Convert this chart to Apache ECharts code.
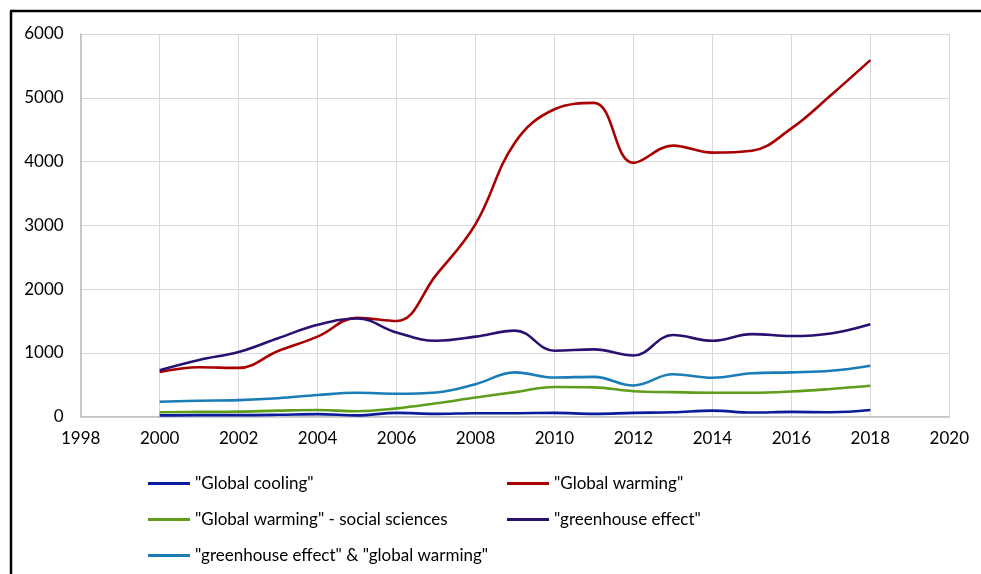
<!DOCTYPE html>
<html>
<head>
<meta charset="utf-8">
<script src="https://cdn.jsdelivr.net/npm/echarts@6/dist/echarts.min.js"></script>
<style>
html,body{margin:0;padding:0;background:#fff;}
#c{width:981px;height:574px;}
</style>
</head>
<body>
<div id="c"></div>
<script>
const years = [2000,2001,2002,2003,2004,2005,2006,2007,2008,2009,2010,2011,2012,2013,2014,2015,2016,2017,2018];
const globalCooling = [20,25,25,30,40,20,60,45,55,55,60,45,60,70,95,65,75,70,105];
const globalWarming = [700,775,765,1030,1255,1550,1500,2220,3020,4300,4820,4920,3980,4250,4140,4170,4520,5040,5590];
const gwSocial = [70,75,80,95,105,85,130,210,300,385,465,460,400,385,375,375,395,435,485];
const greenhouse = [730,890,1015,1230,1440,1540,1320,1190,1255,1350,1035,1055,960,1280,1190,1295,1265,1305,1450];
const ghAndGw = [235,250,260,290,340,375,360,380,510,695,615,625,490,665,610,680,695,720,800];

const names = ['"Global cooling"','"Global warming"','"Global warming" - social sciences','"greenhouse effect"','"greenhouse effect" & "global warming"'];
const colors = ['#0A1C9A','#A80000','#5E9E1A','#2A1070','#1A7DB8'];
const values = [globalCooling, globalWarming, gwSocial, greenhouse, ghAndGw];

const font = 'Lato, "Open Sans", sans-serif';
const chart = echarts.init(document.getElementById('c'));
chart.setOption({
  animation:false,
  backgroundColor:'#fff',
  grid:{left:80.7,right:31.7,top:34,bottom:157.3},
  xAxis:{type:'value',min:1998,max:2020,interval:2,
    axisLine:{show:true,lineStyle:{color:'#bdbdc4',width:1.5}},
    axisTick:{show:false},
    splitLine:{show:true,lineStyle:{color:'#d8d6de',width:1}},
    axisLabel:{color:'#000',fontFamily:font,fontSize:17,margin:13,formatter:v=>String(v)}
  },
  yAxis:{type:'value',min:0,max:6000,interval:1000,
    axisLine:{show:true,lineStyle:{color:'#bdbdc4',width:1.5}},
    axisTick:{show:false},
    splitLine:{show:true,lineStyle:{color:'#d8d6de',width:1}},
    axisLabel:{color:'#000',fontFamily:font,fontSize:17,margin:17,formatter:v=>String(v)}
  },
  legend:[
    {orient:'vertical',left:148,top:475,padding:0,icon:'rect',itemWidth:42,itemHeight:3,itemGap:19,
     data:[names[0],names[2],names[4]],
     textStyle:{color:'#000',fontFamily:font,fontSize:17}},
    {orient:'vertical',left:507,top:475,padding:0,icon:'rect',itemWidth:42,itemHeight:3,itemGap:19,
     data:[names[1],names[3]],
     textStyle:{color:'#000',fontFamily:font,fontSize:17}}
  ],
  graphic:[
    {type:'line',shape:{x1:10,y1:11,x2:981,y2:11},style:{stroke:'#000',lineWidth:2.5},silent:true},
    {type:'line',shape:{x1:11,y1:11,x2:11,y2:574},style:{stroke:'#000',lineWidth:2.5},silent:true}
  ],
  series: names.map((n,i)=>({
    name:n,type:'line',smooth:0.4,symbol:'none',
    lineStyle:{color:colors[i],width:2.6},itemStyle:{color:colors[i]},
    data: years.map((y,j)=>[y,values[i][j]])
  }))
});
</script>
</body>
</html>
